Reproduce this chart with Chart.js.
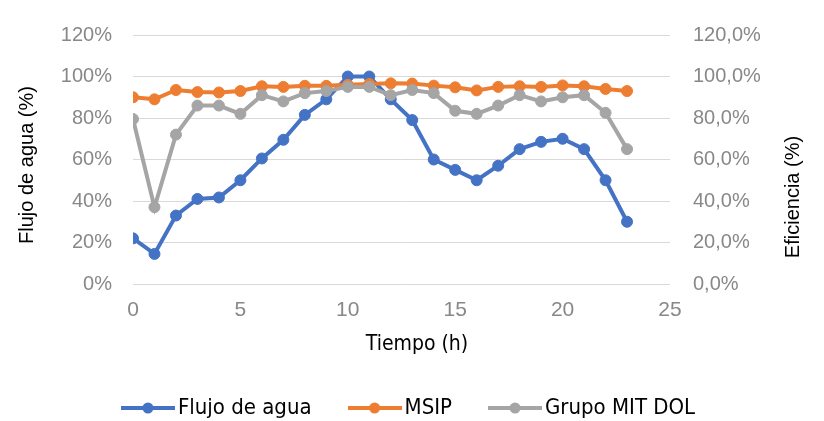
<!DOCTYPE html>
<html>
<head>
<meta charset="utf-8">
<script src="https://cdn.jsdelivr.net/npm/chart.js@4"></script>
<style>
  html, body { margin: 0; padding: 0; background: #fff; }
  #wrap { width: 824px; height: 421px; }
</style>
</head>
<body>
<div id="wrap"><canvas id="grafico" width="824" height="421"></canvas></div>
<script>
const horas = [0, 1, 2, 3, 4, 5, 6, 7, 8, 9, 10, 11, 12, 13, 14, 15, 16, 17, 18, 19, 20, 21, 22, 23]
const flujoAgua = [22, 14.5, 33, 41, 41.7, 50, 60.5, 69.5, 81.5, 89, 100, 100, 89, 79, 60, 55, 50, 57, 65, 68.5, 70, 65, 50, 30]
const msip = [90, 89, 93.5, 92.5, 92.3, 93, 95.3, 95, 95.5, 95.5, 96, 96.4, 96.7, 96.6, 95.6, 94.8, 93.3, 95, 95.3, 95, 95.7, 95.3, 94, 93]
const grupoMit = [79.5, 37, 72, 86, 86, 82, 91, 88, 92, 93, 95, 95, 91, 93.5, 92, 83.5, 82, 86, 91, 88, 90, 91, 82.5, 65]

const xTicks = [0, 5, 10, 15, 20, 25]
const yTicks = [0, 20, 40, 60, 80, 100, 120]

const nombres = ['Flujo de agua', 'MSIP', 'Grupo MIT DOL']
const colores = ['#4472C4', '#ED7D31', '#A5A5A5']

const fuente = "'Liberation Sans', Arial, sans-serif"
const fuenteEstrecha = "'Liberation Sans Narrow', 'Arial Narrow', 'DejaVu Sans Condensed', sans-serif"

const puntos = serie => horas.map((h, i) => ({ x: h, y: serie[i] }))

// marcador de leyenda: linea con punto
function marcador(color) {
  const c = document.createElement('canvas')
  c.width = 54
  c.height = 14
  const g = c.getContext('2d')
  g.strokeStyle = color
  g.lineWidth = 4
  g.beginPath()
  g.moveTo(0, 7)
  g.lineTo(54, 7)
  g.stroke()
  g.fillStyle = color
  g.beginPath()
  g.arc(27, 7, 5.5, 0, Math.PI * 2)
  g.fill()
  return c
}
const marcadores = colores.map(marcador)

// titulos de ejes
const titulosEjes = {
  id: 'titulosEjes',
  afterDraw(chart) {
    const ctx = chart.ctx
    ctx.save()
    ctx.fillStyle = '#000'
    ctx.textAlign = 'center'
    ctx.textBaseline = 'middle'
    ctx.font = '20px ' + fuente
    ctx.translate(27, 165)
    ctx.rotate(-Math.PI / 2)
    ctx.fillText('Flujo de agua (%)', 0, 0)
    ctx.setTransform(1, 0, 0, 1, 0, 0)
    ctx.translate(793, 197)
    ctx.rotate(-Math.PI / 2)
    ctx.fillText('Eficiencia (%)', 0, 0)
    ctx.setTransform(1, 0, 0, 1, 0, 0)
    ctx.font = '21px ' + fuenteEstrecha
    ctx.fillText('Tiempo (h)', 417, 345)
    ctx.restore()
  }
}

const serie = (i, data, eje, orden) => ({
  label: nombres[i],
  data: puntos(data),
  yAxisID: eje,
  order: orden,
  borderColor: colores[i],
  backgroundColor: colores[i],
  borderWidth: 4,
  pointRadius: 5.5,
  pointBorderWidth: 1,
  pointBackgroundColor: colores[i],
  pointBorderColor: colores[i],
  tension: 0
})

new Chart(document.getElementById('grafico'), {
  type: 'line',
  data: {
    datasets: [
      serie(0, flujoAgua, 'y', 3),
      serie(1, msip, 'y1', 2),
      serie(2, grupoMit, 'y1', 1)
    ]
  },
  options: {
    responsive: false,
    animation: false,
    layout: { padding: { left: 0, right: 0, top: 30, bottom: -8 } },
    plugins: {
      tooltip: { enabled: false },
      legend: {
        position: 'bottom',
        labels: {
          usePointStyle: true,
          pointStyleWidth: 38,
          padding: 44,
          color: '#000',
          font: { family: fuenteEstrecha, size: 22 },
          sort: (a, b) => a.datasetIndex - b.datasetIndex,
          generateLabels: chart => Chart.defaults.plugins.legend.labels.generateLabels(chart).map(it => {
            it.pointStyle = marcadores[it.datasetIndex]
            return it
          })
        }
      }
    },
    scales: {
      x: {
        type: 'linear',
        min: 0,
        max: 25,
        afterBuildTicks: s => { s.ticks = xTicks.map(v => ({ value: v })) },
        afterFit: s => { s.height = 69 },
        grid: { display: false },
        border: { display: false },
        ticks: { color: '#888', padding: 6, font: { family: fuente, size: 21 } }
      },
      y: {
        position: 'left',
        min: 0,
        max: 120,
        afterBuildTicks: s => { s.ticks = yTicks.map(v => ({ value: v })) },
        afterFit: s => { s.width = 133 },
        grid: { color: '#d9d9d9', lineWidth: 1, drawTicks: false },
        border: { display: false },
        ticks: { color: '#888', padding: 21, font: { family: fuente, size: 20 }, callback: v => v + '%' }
      },
      y1: {
        position: 'right',
        min: 0,
        max: 120,
        afterBuildTicks: s => { s.ticks = yTicks.map(v => ({ value: v })) },
        afterFit: s => { s.width = 154 },
        grid: { display: false, drawTicks: false },
        border: { display: false },
        ticks: { color: '#888', padding: 23, font: { family: fuente, size: 20 }, callback: v => v.toFixed(1).replace('.', ',') + '%' }
      }
    }
  },
  plugins: [titulosEjes]
})
</script>
</body>
</html>
